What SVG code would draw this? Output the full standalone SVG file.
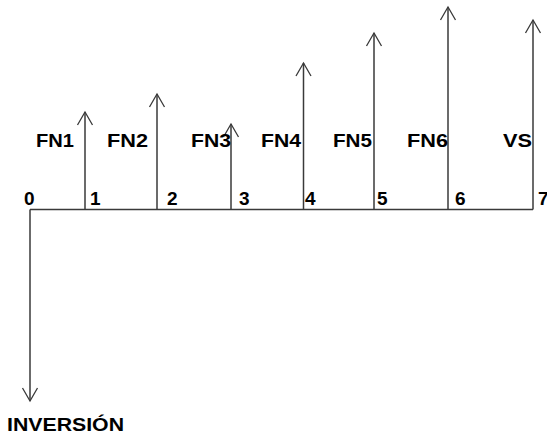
<svg xmlns="http://www.w3.org/2000/svg" width="547" height="437" viewBox="0 0 547 437">
  <defs>
    <!-- open V arrowhead, tip at the end of the line -->
    <marker id="head" markerUnits="userSpaceOnUse" markerWidth="20" markerHeight="20" refX="0" refY="0" viewBox="-15 -10 20 20" orient="auto" overflow="visible">
      <path d="M-13,-7.5 L0,0 L-13,7.5" fill="none" stroke="#3a3a3a" stroke-width="1.3"/>
    </marker>
  </defs>
  <style>
    .flow { stroke: #3a3a3a; stroke-width: 1.5; fill: none; marker-end: url(#head); }
    .axis { stroke: #3a3a3a; stroke-width: 1.5; fill: none; }
    .lbl { font-family: "Liberation Sans", Arial, sans-serif; font-weight: bold; font-size: 19px; fill: #000; }
  </style>
  <rect width="547" height="437" fill="#fff"/>

  <!-- time axis -->
  <g id="connectors">
    <line class="axis" x1="30" y1="209.5" x2="533" y2="209.5"/>
  </g>

  <!-- period 0: initial investment -->
  <g id="t0">
    <line class="flow" x1="30" y1="209.5" x2="30" y2="401"/>
    <text class="lbl" x="24" y="205">0</text>
    <text class="lbl" x="7" y="431" textLength="117" lengthAdjust="spacingAndGlyphs">INVERSIÓN</text>
  </g>

  <g id="t1">
    <line class="flow" x1="85" y1="209.5" x2="85" y2="112"/>
    <text class="lbl" x="90" y="205">1</text>
    <text class="lbl" x="36" y="147" textLength="38" lengthAdjust="spacingAndGlyphs">FN1</text>
  </g>

  <g id="t2">
    <line class="flow" x1="157" y1="209.5" x2="157" y2="94"/>
    <text class="lbl" x="167" y="205">2</text>
    <text class="lbl" x="107" y="147" textLength="41" lengthAdjust="spacingAndGlyphs">FN2</text>
  </g>

  <g id="t3">
    <line class="flow" x1="231" y1="209.5" x2="231" y2="124"/>
    <text class="lbl" x="239" y="205">3</text>
    <text class="lbl" x="191" y="147" textLength="40" lengthAdjust="spacingAndGlyphs">FN3</text>
  </g>

  <g id="t4">
    <line class="flow" x1="303.5" y1="209.5" x2="303.5" y2="63"/>
    <text class="lbl" x="305" y="205">4</text>
    <text class="lbl" x="261" y="147" textLength="40" lengthAdjust="spacingAndGlyphs">FN4</text>
  </g>

  <g id="t5">
    <line class="flow" x1="374" y1="209.5" x2="374" y2="33"/>
    <text class="lbl" x="377" y="205">5</text>
    <text class="lbl" x="333" y="147" textLength="39" lengthAdjust="spacingAndGlyphs">FN5</text>
  </g>

  <g id="t6">
    <line class="flow" x1="448" y1="209.5" x2="448" y2="7"/>
    <text class="lbl" x="455" y="205">6</text>
    <text class="lbl" x="407" y="147" textLength="41" lengthAdjust="spacingAndGlyphs">FN6</text>
  </g>

  <g id="t7">
    <line class="flow" x1="533" y1="209.5" x2="533" y2="20"/>
    <text class="lbl" x="538" y="205">7</text>
    <text class="lbl" x="503" y="147" textLength="29" lengthAdjust="spacingAndGlyphs">VS</text>
  </g>
</svg>
